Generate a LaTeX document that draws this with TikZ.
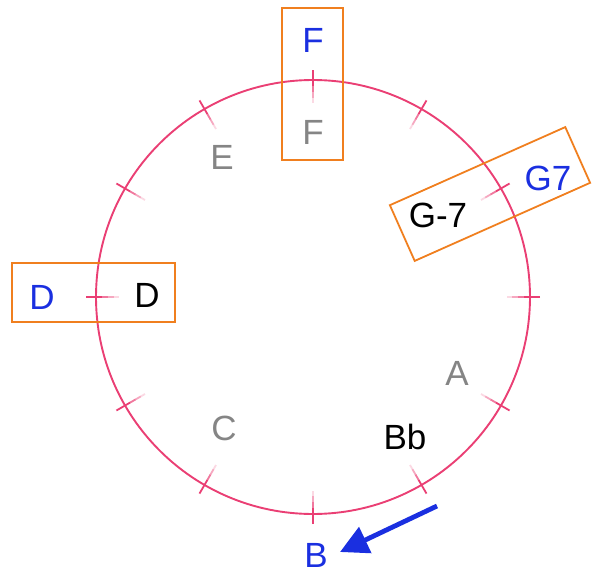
\documentclass[tikz,border=0pt]{standalone}
\usepackage{fontspec}
\setmainfont{Liberation Sans}
\usetikzlibrary{arrows.meta}
\definecolor{ring}{HTML}{EA3F74}
\definecolor{boxo}{HTML}{F07F1F}
\definecolor{noteblue}{HTML}{1A2FE0}
\definecolor{notegray}{HTML}{858585}
\tikzset{
  lbl/.style={font=\fontsize{35}{35}\selectfont, inner sep=0pt},
  bl/.style={lbl, text=noteblue},
  gr/.style={lbl, text=notegray},
  bk/.style={lbl, text=black},
  hbox/.style={draw=boxo, line width=1.8pt, inner sep=0pt},
  tickline/.style={draw=ring, line width=1.8pt},
}
\begin{document}
\begin{tikzpicture}[x=1pt,y=-1pt]
\useasboundingbox (0,0) rectangle (595,573);
% circle
\node[circle, draw=ring, line width=1.9pt, minimum size=434pt, inner sep=0pt] (circ) at (313,297) {};
% ticks
\foreach \a in {0,30,...,330}{
  \draw[tickline] ({313+227*cos(\a)},{297-227*sin(\a)}) -- ({313+211*cos(\a)},{297-211*sin(\a)});
  \draw[tickline, opacity=0.7] ({313+211*cos(\a)},{297-211*sin(\a)}) -- ({313+205*cos(\a)},{297-205*sin(\a)});
  \draw[tickline, opacity=0.45] ({313+205*cos(\a)},{297-205*sin(\a)}) -- ({313+199*cos(\a)},{297-199*sin(\a)});
  \draw[tickline, opacity=0.2] ({313+199*cos(\a)},{297-199*sin(\a)}) -- ({313+194*cos(\a)},{297-194*sin(\a)});
}
% boxes
\node[hbox, minimum width=61pt, minimum height=152pt] (boxF) at (312.5,84) {};
\node[hbox, minimum width=163pt, minimum height=59pt] (boxD) at (93.5,292.5) {};
\node[hbox, minimum width=192pt, minimum height=61pt, rotate=24] (boxG) at (490,194) {};
% labels
\node[bl] (Fo) at (313,40) {F};
\node[gr] (Fi) at (313,132) {F};
\node[gr] (E) at (222,157) {E};
\node[bk] (Gm) at (438,215) {G-7};
\node[bl] (G7) at (548,178) {G7};
\node[bl] (Do) at (42,297) {D};
\node[bk] (Di) at (147,295) {D};
\node[gr] (A) at (457,373) {A};
\node[bk] (Bb) at (405,437) {Bb};
\node[gr] (C) at (224,428) {C};
\node[bl] (B) at (316,555) {B};
% arrow
\coordinate (arrstart) at (437,506);
\draw[noteblue, line width=4.8pt, -{Triangle[length=28pt,width=28pt]}] (arrstart) -- (340,552);
\end{tikzpicture}
\end{document}
